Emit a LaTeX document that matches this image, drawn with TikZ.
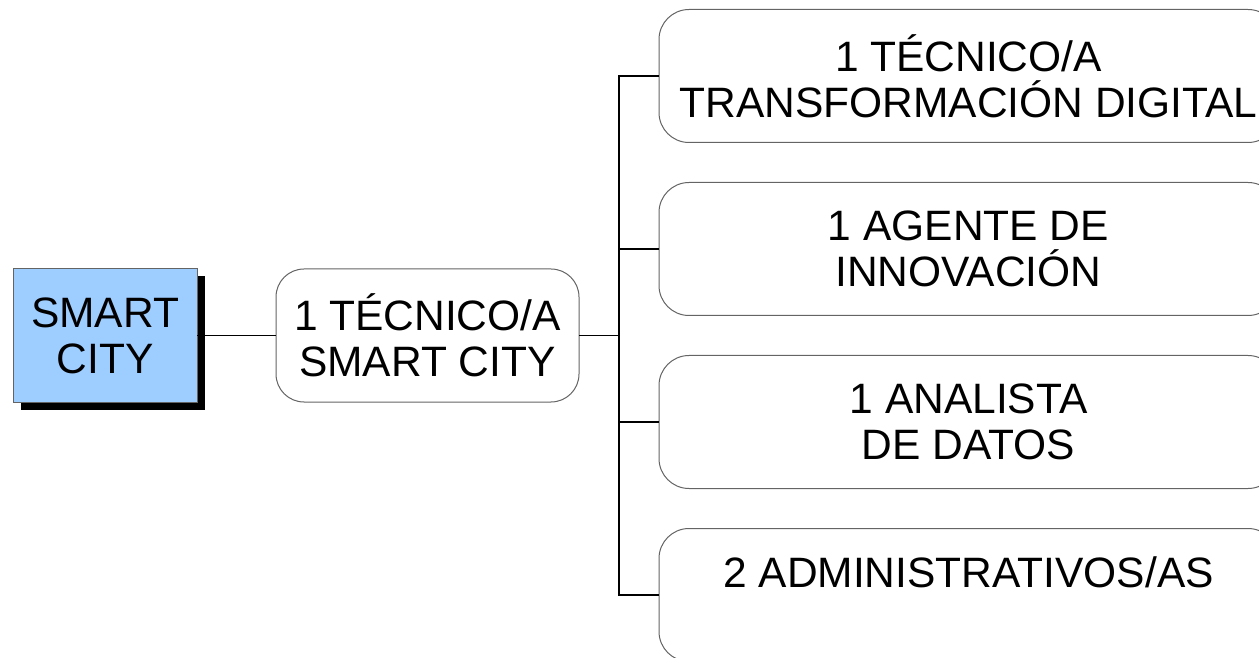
\documentclass[tikz,border=0pt]{standalone}
\usepackage{fontspec}
\setmainfont{Liberation Sans}
\usepackage{tikz}
\usetikzlibrary{positioning,shadows}
\definecolor{cityblue}{RGB}{158, 205, 255}
\definecolor{boxgray}{RGB}{100, 100, 100}
\tikzstyle{root} = [rectangle, draw=boxgray, line width=1pt, fill=cityblue, text=black, align=center, font=\fontsize{42.5}{46}\selectfont, minimum width=184pt, minimum height=133pt, outer sep=0pt, drop shadow={shadow xshift=7.5pt, shadow yshift=-7.5pt, fill=black, opacity=1}]
\tikzstyle{chief} = [rectangle, rounded corners=28pt, draw=boxgray, line width=1pt, fill=white, text=black, align=center, font=\fontsize{42.5}{46}\selectfont, minimum width=303pt, minimum height=133pt, outer sep=0pt]
\tikzstyle{staff} = [rectangle, rounded corners=30pt, draw=boxgray, line width=1pt, fill=white, text=black, align=center, font=\fontsize{42.5}{46}\selectfont, minimum width=619pt, minimum height=133pt, outer sep=0pt]
\tikzstyle{link} = [draw, line width=1.2pt]

\begin{document}
\begin{tikzpicture}[x=1pt, y=1pt]

\clip (0,0) rectangle (1259,657);

% boxes =============================

% root
\node[root] (city) at (105,321.5) {SMART\\CITY};

% head of the unit
\node[chief, right=79pt of city] (tecsc) {1 TÉCNICO/A\\SMART CITY};
\coordinate[right=40pt of tecsc] (fork);

% staff
\node[staff, above right=20pt and 40pt of fork] (agente) {1 AGENTE DE\\INNOVACIÓN};
\node[staff, above=40pt of agente] (tdig) {1 TÉCNICO/A\\TRANSFORMACIÓN DIGITAL};
\node[staff, below right=20pt and 40pt of fork] (analista) {1 ANALISTA\\DE DATOS};
\node[staff, below=40pt of analista] (admin) {2 ADMINISTRATIVOS/AS\\\phantom{A}};

%edges
\path[link] (city) -- (tecsc);
\path[link] (tecsc) -- (fork);
\path[link] (fork) |- (tdig);
\path[link] (fork) |- (agente);
\path[link] (fork) |- (analista);
\path[link] (fork) |- (admin);

\end{tikzpicture}
\end{document}
